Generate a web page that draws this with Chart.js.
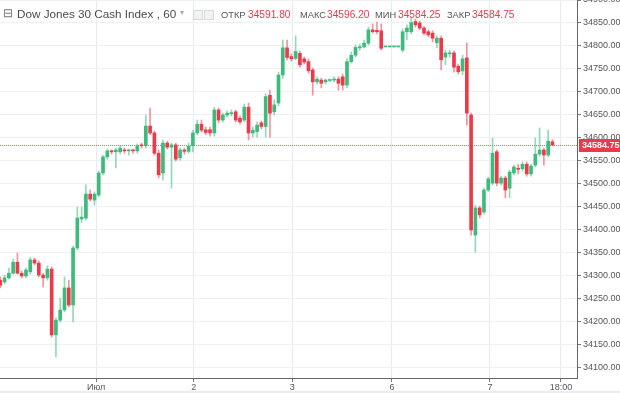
<!DOCTYPE html>
<html><head><meta charset="utf-8">
<script src="https://cdn.jsdelivr.net/npm/chart.js@4"></script>
<style>
html,body{margin:0;padding:0;background:#fff;}
#wrap{position:relative;width:620px;height:393px;overflow:hidden;background:#fff;}
#c{position:absolute;left:0;top:0;}
#hdr{position:absolute;left:0;top:0;width:580px;height:28px;font-family:"Liberation Sans",Arial,sans-serif;color:#4a4a4a;pointer-events:none;}
#hdr span{position:absolute;white-space:nowrap;}
.t{font-size:11.7px;color:#4a4a4a;top:7px;}
.k{font-size:9.3px;color:#555;top:10px;}
.v{font-size:10.2px;color:#ec3a4b;top:9px;}
.ic{display:inline-block;position:absolute;top:10px;width:8px;height:8px;border:1px solid #d5d8dc;background:#f1f2f4;}
#foot{position:absolute;left:0;top:391px;width:620px;height:2px;background:#e9edf1;}
</style></head>
<body><div id="wrap">
<canvas id="c" width="620" height="393"></canvas>
<div id="hdr">
<span class="t" style="left:3px;top:6px;color:#777;font-size:12px;">⊟</span>
<span class="t" style="left:17px;">Dow Jones 30 Cash Index , 60</span>
<span class="t" style="left:180px;top:8px;color:#aaa;font-size:8px;">▾</span>
<span class="ic" style="left:193px;"></span>
<span class="ic" style="left:204px;"></span>
<span class="k" style="left:221px;">ОТКР</span><span class="v" style="left:248px;">34591.80</span>
<span class="k" style="left:300px;">МАКС</span><span class="v" style="left:327px;">34596.20</span>
<span class="k" style="left:375px;">МИН</span><span class="v" style="left:398px;">34584.25</span>
<span class="k" style="left:447px;">ЗАКР</span><span class="v" style="left:472px;">34584.75</span>
</div>
<div id="foot"></div>
</div>
<script>
const opens = [34291,34287,34296,34306,34330,34306,34300,34309,34335,34328,34302,34296,34315,34172,34204,34226,34274,34237,34361,34424,
34426,34478,34465,34476,34524,34559,34572,34570,34570,34574,34572,34574,34572,34585,34583,34626,34611,34567,34524,34589,
34580,34585,34557,34574,34571,34583,34611,34630,34618,34618,34611,34661,34639,34650,34653,34657,34643,34639,34667,34611,
34614,34633,34625,34693,34657,34676,34737,34796,34777,34773,34784,34772,34766,34748,34722,34726,34722,34725,34726,34728,
34733,34715,34766,34780,34796,34798,34806,34835,34834,34833,34798,34798,34798,34798,34791,34831,34831,34853,34850,34839,
34831,34828,34807,34817,34776,34783,34785,34756,34746,34774,34650,34389,34448,34439,34487,34502,34570,34502,34513,34491,
34524,34534,34533,34543,34522,34541,34565,34574,34563,34591.8];
const highs = [34298,34302,34317,34337,34350,34311,34317,34341,34339,34333,34306,34322,34320,34209,34252,34298,34291,34365,34450,34450,
34498,34487,34483,34528,34563,34576,34574,34578,34583,34578,34576,34576,34587,34589,34650,34665,34615,34574,34596,34593,
34589,34589,34578,34578,34589,34617,34639,34639,34624,34624,34667,34665,34654,34659,34661,34661,34648,34674,34676,34624,
34635,34637,34696,34704,34683,34743,34813,34813,34783,34822,34789,34776,34772,34752,34733,34730,34728,34728,34733,34733,
34739,34772,34787,34802,34804,34813,34841,34848,34852,34848,34798,34798,34798,34798,34837,34846,34861,34859,34854,34843,
34835,34833,34822,34822,34791,34791,34789,34761,34780,34807,34654,34454,34452,34491,34515,34600,34574,34517,34517,34530,
34541,34543,34548,34548,34543,34600,34622,34578,34617,34596.2];
const lows = [34274,34283,34293,34304,34304,34296,34296,34304,34324,34298,34276,34291,34167,34124,34200,34222,34233,34200,34357,34417,
34422,34463,34454,34472,34520,34554,34565,34535,34565,34567,34563,34567,34567,34578,34578,34607,34563,34513,34509,34576,
34491,34550,34552,34565,34567,34570,34607,34613,34607,34604,34604,34633,34635,34646,34648,34635,34630,34635,34596,34602,
34602,34620,34602,34602,34650,34670,34730,34770,34767,34770,34754,34761,34741,34693,34717,34709,34717,34722,34722,34704,
34704,34709,34763,34776,34791,34796,34802,34828,34826,34791,34798,34798,34798,34798,34787,34813,34826,34841,34835,34824,
34820,34809,34796,34748,34759,34776,34743,34739,34737,34628,34389,34352,34426,34435,34483,34498,34496,34498,34470,34470,
34520,34522,34528,34517,34517,34537,34561,34541,34559,34584.25];
const closes = [34280,34296,34306,34330,34306,34300,34313,34335,34328,34302,34296,34315,34172,34204,34226,34274,34237,34361,34426,34428,
34478,34467,34478,34524,34559,34572,34570,34574,34578,34572,34573,34572,34583,34583,34626,34611,34567,34520,34589,34580,
34585,34554,34574,34571,34582,34611,34630,34617,34612,34611,34661,34639,34650,34654,34655,34639,34635,34667,34611,34617,
34628,34625,34690,34654,34672,34737,34796,34775,34772,34788,34759,34765,34746,34722,34728,34719,34726,34726,34728,34719,
34715,34766,34780,34797,34798,34806,34835,34831,34831,34795,34798,34798,34798,34798,34831,34839,34851,34846,34839,34828,
34824,34817,34817,34770,34785,34785,34754,34744,34772,34654,34400,34448,34433,34487,34511,34567,34502,34513,34487,34526,
34537,34532,34543,34522,34539,34565,34574,34563,34593,34584.75];

const xTickPositions = [22.4, 45.2, 68.2, 91.5, 114.4, 131.0];
const xTickLabels = ['Июл', '2', '3', '6', '7', '18:00'];
const yTickValues = [34100,34150,34200,34250,34300,34350,34400,34450,34500,34550,34600,34650,34700,34750,34800,34850,34900];
const lastPrice = closes[closes.length - 1];

const UP = '#3dba7c', DOWN = '#ec3a4b';
const UPW = 'rgba(61,186,124,0.55)', DOWNW = 'rgba(236,58,75,0.55)';
const isUp = i => closes[i] >= opens[i];

const bodyData = opens.map((o, i) => ({x: i, y: [o, closes[i]]}));
const wickData = opens.map((o, i) => ({x: i, y: [lows[i], highs[i]]}));

const priceLine = {
  id: 'priceLine',
  beforeDatasetsDraw(chart) {
    const {ctx, chartArea, scales} = chart;
    const y = Math.round(scales.y.getPixelForValue(lastPrice)) + 0.5;
    ctx.save();
    ctx.strokeStyle = '#f06b78';
    ctx.lineWidth = 1;
    ctx.setLineDash([1, 1]);
    ctx.beginPath(); ctx.moveTo(chartArea.left, y); ctx.lineTo(chartArea.right, y); ctx.stroke();
    ctx.restore();
  },
  afterDraw(chart) {
    const {ctx, chartArea, scales} = chart;
    const y = Math.round(scales.y.getPixelForValue(lastPrice));
    ctx.save();
    ctx.fillStyle = DOWN;
    ctx.fillRect(chartArea.right + 2, y - 6, 620 - chartArea.right - 2, 13);
    ctx.fillStyle = '#fff';
    ctx.font = 'bold 9px "Liberation Sans", Arial, sans-serif';
    ctx.textBaseline = 'middle';
    ctx.fillText(lastPrice.toFixed(2), chartArea.right + 5, y + 0.5);
    ctx.restore();
  }
};

new Chart(document.getElementById('c'), {
  type: 'bar',
  data: {
    datasets: [
      {
        label: 'body', data: bodyData, order: 0, grouped: false,
        barThickness: 3, minBarLength: 1, borderWidth: 0,
        backgroundColor: ctx => isUp(ctx.dataIndex) ? UP : DOWN
      },
      {
        label: 'wick', data: wickData, order: 1, grouped: false,
        barThickness: 1, borderWidth: 0,
        backgroundColor: ctx => isUp(ctx.dataIndex) ? UPW : DOWNW
      }
    ]
  },
  options: {
    responsive: false, animation: false, devicePixelRatio: 1,
    layout: {padding: 0},
    plugins: {legend: {display: false}, tooltip: {enabled: false}},
    scales: {
      x: {
        type: 'linear', min: -0.07, max: 134.74, offset: false,
        afterBuildTicks: s => { s.ticks = xTickPositions.map(v => ({value: v})); },
        afterFit: s => { s.height = 15; s.paddingLeft = 0; s.paddingRight = 0; },
        ticks: {
          autoSkip: false, maxRotation: 0, padding: 0, color: '#555',
          font: {size: 9, family: '"Liberation Sans", Arial, sans-serif'},
          callback: (v, i) => xTickLabels[i]
        },
        grid: {offset: false, color: '#e6ebf1', tickLength: 4, tickColor: '#777'},
        border: {color: '#666'}
      },
      y: {
        type: 'linear', position: 'right', min: 34078.26, max: 34900,
        afterBuildTicks: s => { s.ticks = yTickValues.map(v => ({value: v})); },
        afterFit: s => { s.width = 43; s.paddingTop = 0; s.paddingBottom = 0; },
        ticks: {
          padding: 2, color: '#555',
          font: {size: 9, family: '"Liberation Sans", Arial, sans-serif'},
          callback: v => Number(v).toFixed(2)
        },
        grid: {offset: false, color: '#eef0f3', tickLength: 4, tickColor: '#777'},
        border: {color: '#666'}
      }
    }
  },
  plugins: [priceLine]
});
</script>
</body></html>
